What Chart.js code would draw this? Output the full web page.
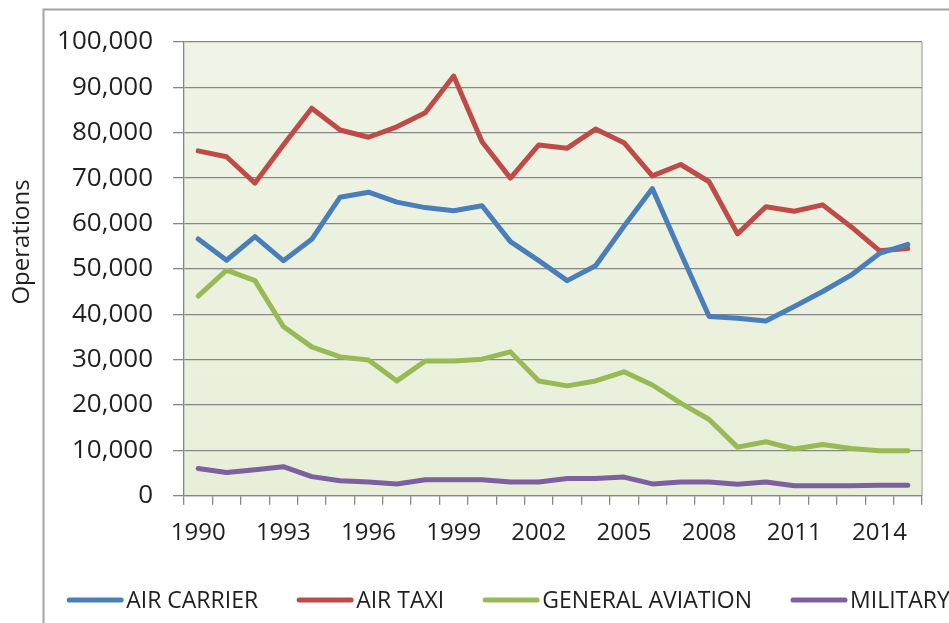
<!DOCTYPE html>
<html>
<head>
<meta charset="utf-8">
<script src="https://cdn.jsdelivr.net/npm/chart.js@4/dist/chart.umd.min.js"></script>
<style>
  html, body { margin: 0; padding: 0; background: #ffffff; }
  #wrap { width: 949px; height: 623px; position: relative; }
</style>
</head>
<body>
<div id="wrap"><canvas id="c" width="949" height="623"></canvas></div>
<script>
const years = ['1990','1991','1992','1993','1994','1995','1996','1997','1998','1999','2000','2001','2002','2003','2004','2005','2006','2007','2008','2009','2010','2011','2012','2013','2014','2015'];
const airCarrier = [56600, 51900, 57100, 51800, 56500, 65800, 66900, 64700, 63500, 62800, 63900, 56000, 51800, 47400, 50700, 59400, 67700, 53500, 39500, 39100, 38500, 41700, 45000, 48600, 53400, 55400];
const airTaxi = [76000, 74700, 68900, 77300, 85400, 80600, 79000, 81300, 84400, 92500, 78000, 70000, 77300, 76600, 80800, 77800, 70500, 73000, 69200, 57700, 63700, 62700, 64100, 59300, 54000, 54500];
const generalAviation = [44000, 49700, 47400, 37300, 32800, 30600, 29900, 25300, 29700, 29700, 30100, 31700, 25300, 24200, 25300, 27300, 24400, 20400, 16800, 10700, 11900, 10300, 11300, 10400, 9900, 9900];
const military = [6000, 5100, 5700, 6400, 4200, 3300, 3000, 2600, 3500, 3500, 3500, 3000, 3000, 3800, 3800, 4100, 2600, 3000, 3000, 2500, 3000, 2200, 2200, 2200, 2300, 2300];
const seriesNames = ['AIR CARRIER', 'AIR TAXI', 'GENERAL AVIATION', 'MILITARY'];
const seriesColors = ['#4A7EBB', '#BE4B48', '#98B954', '#7D60A0'];
const yTitle = 'Operations';

const FONT = '"Open Sans", "DejaVu Sans", sans-serif';
const TEXT = '#1f1f1f';
const GRID = '#878787';

const decorPlugin = {
  id: 'decor',
  beforeDraw(chart) {
    const ctx = chart.ctx;
    const a = chart.chartArea;
    ctx.save();
    ctx.strokeStyle = '#a3a3a3';
    ctx.lineWidth = 2;
    ctx.beginPath();
    ctx.moveTo(43.5, 623);
    ctx.lineTo(43.5, 9.5);
    ctx.lineTo(949, 9.5);
    ctx.stroke();
    const g = ctx.createLinearGradient(0, a.top, 0, a.bottom);
    g.addColorStop(0, '#eff3e5');
    g.addColorStop(1, '#e7efd8');
    ctx.fillStyle = g;
    ctx.fillRect(a.left, a.top, a.right - a.left, a.bottom - a.top);
    ctx.strokeStyle = '#c6c6c6';
    ctx.lineWidth = 2;
    ctx.beginPath();
    ctx.moveTo(a.right, a.top);
    ctx.lineTo(a.right, a.bottom);
    ctx.stroke();
    ctx.restore();
  },
  afterDraw(chart) {
    const ctx = chart.ctx;
    ctx.save();
    ctx.fillStyle = TEXT;
    ctx.font = '24px ' + FONT;
    ctx.textAlign = 'center';
    ctx.textBaseline = 'middle';
    ctx.translate(22, 242);
    ctx.rotate(-Math.PI / 2);
    ctx.fillText(yTitle, 0, 0);
    ctx.restore();

    ctx.save();
    ctx.font = '23px ' + FONT;
    ctx.textBaseline = 'middle';
    ctx.textAlign = 'left';
    const lineW = 58, gap = 2, itemGap = 38;
    const ds = chart.data.datasets;
    const widths = ds.map(d => lineW + gap + ctx.measureText(d.label).width);
    const total = widths.reduce((s, w) => s + w, 0) + itemGap * (ds.length - 1);
    let x = 508 - total / 2;
    const y = 600;
    ds.forEach((d, i) => {
      ctx.strokeStyle = d.borderColor;
      ctx.lineWidth = 5;
      ctx.lineCap = 'round';
      ctx.beginPath();
      ctx.moveTo(x + 3, y);
      ctx.lineTo(x + lineW - 3, y);
      ctx.stroke();
      ctx.fillStyle = TEXT;
      ctx.fillText(d.label, x + lineW + gap, y + 1);
      x += widths[i] + itemGap;
    });
    ctx.restore();
  }
};

const allSeries = [airCarrier, airTaxi, generalAviation, military];

new Chart(document.getElementById('c'), {
  type: 'line',
  data: {
    labels: years,
    datasets: allSeries.map((vals, i) => ({
      label: seriesNames[i],
      data: vals,
      borderColor: seriesColors[i],
      backgroundColor: seriesColors[i],
      borderWidth: 5,
      pointRadius: 0,
      pointHoverRadius: 0,
      tension: 0,
      fill: false,
      borderJoinStyle: 'round',
      borderCapStyle: 'round'
    }))
  },
  options: {
    responsive: false,
    devicePixelRatio: 1,
    animation: false,
    layout: { padding: { top: 42, right: 27, bottom: 0, left: 0 } },
    plugins: {
      legend: { display: false },
      tooltip: { enabled: false }
    },
    scales: {
      x: {
        offset: true,
        grid: { offset: true, drawOnChartArea: false, tickLength: 9, color: GRID, lineWidth: 1.3 },
        border: { color: GRID, width: 1.3 },
        ticks: {
          autoSkip: false,
          maxRotation: 0,
          minRotation: 0,
          padding: 14,
          color: TEXT,
          font: { family: FONT, size: 24 },
          callback: function (v, i) { return i % 3 === 0 ? this.getLabelForValue(v) : ''; }
        },
        afterFit: function (s) { s.height = 127.3; }
      },
      y: {
        min: 0,
        max: 100000,
        grid: { color: GRID, lineWidth: 1.3, tickLength: 11 },
        border: { color: GRID, width: 1.3 },
        ticks: {
          stepSize: 10000,
          padding: 20,
          color: TEXT,
          font: { family: FONT, size: 26 },
          callback: v => v.toLocaleString('en-US')
        },
        afterFit: function (s) { s.width = 184; }
      }
    }
  },
  plugins: [decorPlugin]
});
</script>
</body>
</html>
